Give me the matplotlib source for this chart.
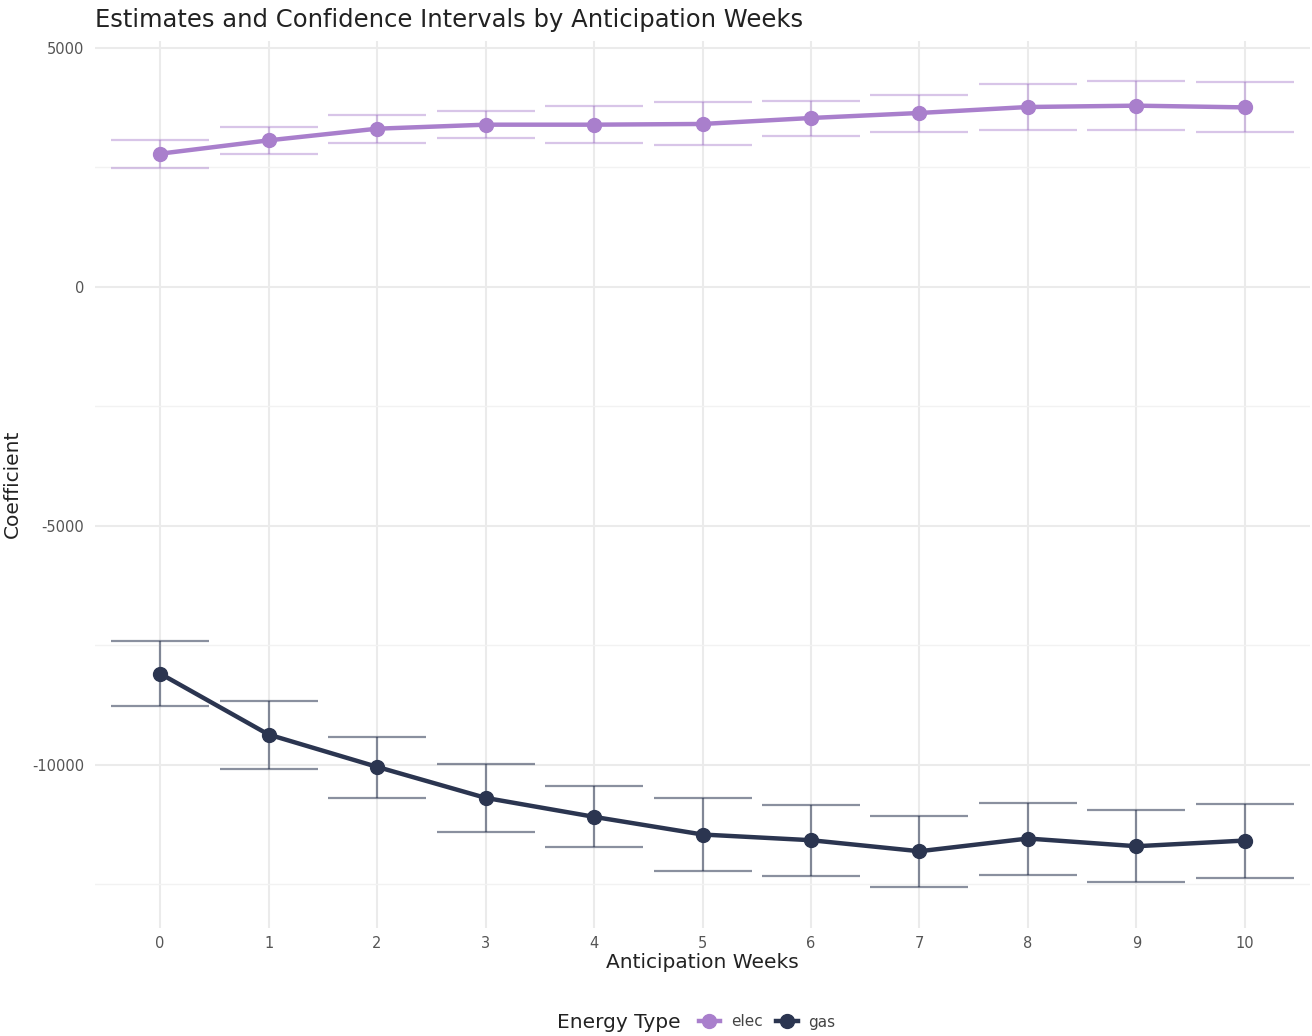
import matplotlib.pyplot as plt
from matplotlib.lines import Line2D
from matplotlib.ticker import MultipleLocator
import numpy as np

plt.rcParams["axes.unicode_minus"] = False

weeks = list(range(11))

elec_est = [2782, 3061, 3305, 3389, 3389, 3404, 3529, 3634, 3759, 3787, 3751]
elec_low = [2483, 2782, 3006, 3111, 3006, 2971, 3159, 3243, 3278, 3278, 3228]
elec_high = [3069, 3333, 3598, 3682, 3772, 3856, 3891, 4017, 4247, 4295, 4274]

gas_est = [-8096, -9372, -10048, -10697, -11094, -11464, -11583, -11814, -11548, -11709, -11590]
gas_low = [-8780, -10084, -10697, -11402, -11730, -12218, -12337, -12567, -12301, -12454, -12378]
gas_high = [-7420, -8661, -9414, -9985, -10446, -10697, -10837, -11067, -10810, -10956, -10822]

series = [
    ("elec", elec_est, elec_low, elec_high, "#a97fcc", 0.45),
    ("gas", gas_est, gas_low, gas_high, "#2b3550", 0.55),
]

fig = plt.figure(figsize=(13.12, 10.36), dpi=100)
ax = fig.add_axes([95 / 1312, 1 - 928 / 1036, 1215 / 1312, 887 / 1036])

x = np.array(weeks)
for name, est, lo, hi, col, a in series:
    est = np.array(est)
    yerr = [est - np.array(lo), np.array(hi) - est]
    ax.errorbar(x, est, yerr=yerr, fmt="none", ecolor=col, alpha=a,
                elinewidth=1.6, capsize=35, capthick=1.6, zorder=2)
    ax.plot(x, est, color=col, lw=3.2, marker="o", ms=10, zorder=3)

ax.set_xlim(-0.6, 10.6)
ax.set_ylim(-13420, 5140)
ax.set_xticks(weeks)
ax.yaxis.set_major_locator(MultipleLocator(5000))
ax.yaxis.set_minor_locator(MultipleLocator(2500))

ax.grid(True, which="major", color="#ebebeb", lw=1.5)
ax.grid(True, which="minor", axis="y", color="#f2f2f2", lw=1.0)
ax.set_axisbelow(True)
for s in ax.spines.values():
    s.set_visible(False)
ax.tick_params(which="both", length=0, labelsize=10.5, colors="#555555", pad=8)
ax.tick_params(axis="x", pad=6)

ax.set_xlabel("Anticipation Weeks", fontsize=14.5, color="#222222", labelpad=1)
fig.text(12 / 1312, 1 - 484 / 1036, "Coefficient", rotation=90, fontsize=14.5,
         color="#222222", ha="center", va="center")
ax.set_title("Estimates and Confidence Intervals by Anticipation Weeks",
             fontsize=17.5, color="#222222", loc="left", pad=10)

handles = [Line2D([], [], color=c, lw=3.2, marker="o", ms=10) for _, _, _, _, c, _ in series]
fig.text(557 / 1312, 1 - 1022 / 1036, "Energy Type", fontsize=14.5, color="#222222",
         va="center", ha="left")
fig.legend(handles, [s[0] for s in series], ncol=2, loc="center left",
           bbox_to_anchor=(685 / 1312, 1 - 1022 / 1036), frameon=False,
           fontsize=11, handlelength=1.4, handletextpad=0.7, columnspacing=0.9,
           labelcolor="#444444")

fig.savefig("out.png", dpi=100, facecolor="white")
